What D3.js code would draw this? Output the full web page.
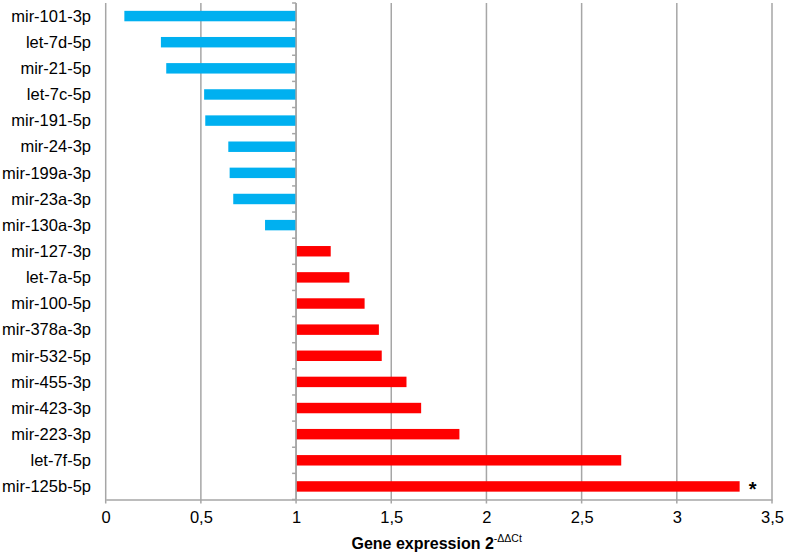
<!DOCTYPE html>
<html>
<head>
    <meta charset="utf-8">
    <style>
        body { margin: 0; background: #fff; }
        text { font-family: "Liberation Sans", Arial, sans-serif; }
    </style>
</head>
<body>
    <div id="graph"></div>
    <script src="https://d3js.org/d3.v7.min.js"></script>
    <script>
        // Datos
        const CATEGORIES = [
            "mir-101-3p", "let-7d-5p", "mir-21-5p", "let-7c-5p", "mir-191-5p",
            "mir-24-3p", "mir-199a-3p", "mir-23a-3p", "mir-130a-3p", "mir-127-3p",
            "let-7a-5p", "mir-100-5p", "mir-378a-3p", "mir-532-5p", "mir-455-3p",
            "mir-423-3p", "mir-223-3p", "let-7f-5p", "mir-125b-5p"
        ];
        const VALUES = [
            0.098, 0.29, 0.318, 0.517, 0.523,
            0.644, 0.651, 0.67, 0.837, 1.182,
            1.28, 1.36, 1.435, 1.45, 1.58,
            1.657, 1.858, 2.708, 3.33
        ];
        const SIGNIFICANT = ["mir-125b-5p"];
        const X_TICKS = [0, 0.5, 1, 1.5, 2, 2.5, 3, 3.5];
        const BASELINE = 1;

        const WIDTH = 787;
        const HEIGHT = 556;
        const LEFT = 105.7, RIGHT = 772, TOP = 3, BOTTOM = 499.5;
        const AXIS_COLOR = "#a6a6a6";

        const data = CATEGORIES.map((c, i) => ({ name: c, value: VALUES[i] }));

        const xScale = d3.scaleLinear()
            .domain([0, 3.5])
            .range([LEFT, RIGHT]);

        const yScale = d3.scaleBand()
            .domain(CATEGORIES)
            .range([TOP, BOTTOM])
            .paddingInner(0.6)
            .paddingOuter(0.3);

        const svg = d3.select("#graph")
            .append("svg")
            .attr("width", WIDTH)
            .attr("height", HEIGHT);

        // Líneas de la cuadrícula
        svg.append("g")
            .selectAll("line")
            .data(X_TICKS)
            .enter()
            .append("line")
            .attr("x1", d => xScale(d))
            .attr("x2", d => xScale(d))
            .attr("y1", TOP)
            .attr("y2", BOTTOM + 4)
            .attr("stroke", AXIS_COLOR)
            .attr("stroke-width", 1.5);

        // Eje x
        const xAxis = svg.append("g")
            .attr("transform", `translate(0, ${BOTTOM})`)
            .call(d3.axisBottom(xScale)
                .tickValues(X_TICKS)
                .tickSize(0)
                .tickPadding(12)
                .tickFormat(d => String(d).replace(".", ",")));
        xAxis.select(".domain")
            .attr("stroke", AXIS_COLOR)
            .attr("stroke-width", 1.5);
        xAxis.selectAll("text")
            .attr("font-size", "16.5px")
            .attr("fill", "#000")
            .attr("font-family", "Liberation Sans, Arial, sans-serif");

        // Barras
        svg.append("g")
            .selectAll("rect")
            .data(data)
            .enter()
            .append("rect")
            .attr("x", d => xScale(Math.min(d.value, BASELINE)))
            .attr("width", d => Math.abs(xScale(d.value) - xScale(BASELINE)))
            .attr("y", d => yScale(d.name))
            .attr("height", yScale.bandwidth())
            .attr("fill", d => d.value < BASELINE ? "#00b0f0" : "#ff0000");

        // Eje de categorías en x = 1
        const step = yScale.step();
        const yAxis = svg.append("g")
            .attr("transform", `translate(${xScale(BASELINE)}, 0)`);
        yAxis.append("line")
            .attr("y1", TOP)
            .attr("y2", BOTTOM)
            .attr("stroke", AXIS_COLOR)
            .attr("stroke-width", 1.5);
        yAxis.selectAll("line.tick")
            .data(d3.range(CATEGORIES.length + 1))
            .enter()
            .append("line")
            .attr("class", "tick")
            .attr("x1", -4)
            .attr("x2", 0)
            .attr("y1", i => TOP + i * step)
            .attr("y2", i => TOP + i * step)
            .attr("stroke", AXIS_COLOR)
            .attr("stroke-width", 1.5);

        // Etiquetas de categorías
        svg.append("g")
            .selectAll("text")
            .data(CATEGORIES)
            .enter()
            .append("text")
            .attr("x", 91)
            .attr("y", d => yScale(d) + yScale.bandwidth() / 2)
            .attr("dy", "0.35em")
            .attr("text-anchor", "end")
            .attr("font-size", "16.5px")
            .attr("fill", "#000")
            .text(d => d);

        // Asterisco de significancia
        svg.append("g")
            .selectAll("text")
            .data(data.filter(d => SIGNIFICANT.includes(d.name)))
            .enter()
            .append("text")
            .attr("x", d => xScale(d.value) + 13)
            .attr("y", d => yScale(d.name) + yScale.bandwidth() / 2 + 10)
            .attr("text-anchor", "middle")
            .attr("font-size", "20px")
            .attr("font-weight", "bold")
            .attr("fill", "#000")
            .text("*");

        // Título del eje x
        const title = svg.append("text")
            .attr("x", 351.5)
            .attr("y", 549)
            .attr("font-size", "16px")
            .attr("font-weight", "bold")
            .attr("fill", "#000");
        title.append("tspan").text("Gene expression 2");
        title.append("tspan")
            .attr("font-size", "10.5px")
            .attr("font-weight", "normal")
            .attr("dy", "-7")
            .text("-ΔΔCt");
    </script>
</body>
</html>
